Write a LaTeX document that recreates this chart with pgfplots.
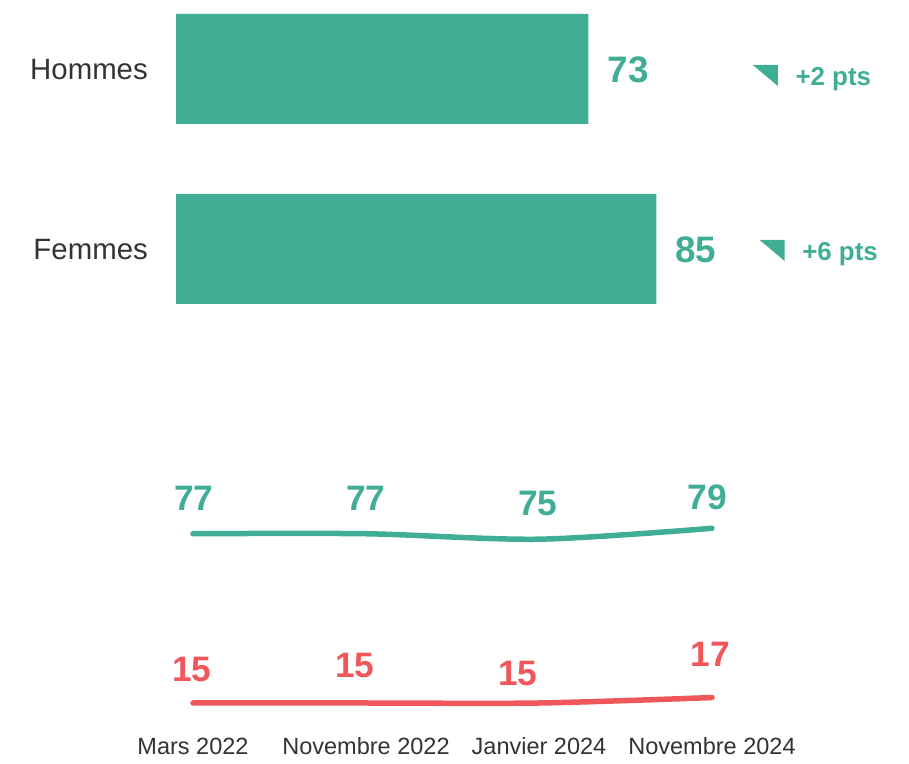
\documentclass[border=0pt]{standalone}
\usepackage{pgfplots}
\pgfplotsset{compat=1.18}
\usepackage{pgfplotstable}
\usepackage{fontspec}
\setmainfont{Liberation Sans}
\definecolor{vert}{RGB}{64,174,148}
\definecolor{rouge}{RGB}{240,87,91}
\definecolor{gris}{RGB}{51,51,51}
\pgfdeclareplotmark{dtri}{%
 \pgfpathmoveto{\pgfpoint{-12.5bp}{10.5bp}}%
 \pgfpathlineto{\pgfpoint{12.5bp}{10.5bp}}%
 \pgfpathlineto{\pgfpoint{12.5bp}{-10.5bp}}%
 \pgfpathclose\pgfusepathqfill}

\pgfplotstableread{
x y dx dy
0 77 1 20
1 77 0 20
2 75 -1 21
3 79 -5 16
}\greendata
\pgfplotstableread{
x y dx dy
0 15 -1 18
1 15 -11 22
2 15 -21 14
3 17 -2 28
}\reddata

\begin{document}
\begin{tikzpicture}
\path[use as bounding box] (0,0) rectangle (909bp,764bp);
\begin{axis}[
 at={(176bp,425bp)}, anchor=south west, scale only axis,
 x=5.65bp, y=180bp, xmin=0, xmax=130, ymin=-0.5, ymax=1.5,
 clip=false, axis line style={draw=none}, major tick length=0,
 /pgf/number format/assume math mode=true,
 xtick=\empty, ytick={0,1}, yticklabels={Femmes,Hommes},
 yticklabel style={font=\fontsize{29.5}{31}\selectfont, text=gris, inner sep=0, anchor=east, xshift=-28bp, yshift=-1bp},
 bar width=110bp,
 ]
\addplot[xbar, fill=vert, draw=none, nodes near coords,
  every node near coord/.style={anchor=west, inner sep=0, xshift=19bp, yshift=-1bp,
  font=\fontsize{37}{40}\selectfont\bfseries, text=vert}]
  coordinates {(73,1) (85,0)};
\addplot[only marks, mark=dtri, color=vert, fill=vert, draw=none, nodes near coords, point meta=explicit symbolic,
  every node near coord/.style={anchor=base west, inner sep=0, xshift=30bp, yshift=-10.5bp,
  font=\fontsize{26}{28}\selectfont\bfseries, text=vert}]
  coordinates {(104.3,0.964) [+2 pts] (105.5,-0.008) [+6 pts]};
\end{axis}

\begin{axis}[
 at={(193bp,61bp)}, anchor=south west, scale only axis,
 x=173bp, y=2.73bp, xmin=0, xmax=3, ymin=15, ymax=79,
 clip=false, axis line style={draw=none}, major tick length=0,
 /pgf/number format/assume math mode=true,
 ytick=\empty, xtick={0,1,2,3},
 xticklabels={Mars 2022, Novembre 2022, Janvier 2024, Novembre 2024},
 xticklabel style={font=\fontsize{23.6}{25}\selectfont, text=gris, anchor=base, inner sep=0, yshift=-51bp},
 ]
\addplot[vert, line width=5.5bp, line cap=round, smooth, no marks, nodes near coords,
  visualization depends on={\thisrow{dx}\as\ddx},
  visualization depends on={\thisrow{dy}\as\ddy},
  every node near coord/.style={anchor=south, inner sep=0, xshift=\ddx bp, yshift=\ddy bp,
  font=\fontsize{35.5}{38}\selectfont\bfseries, text=vert}]
  table[x=x,y=y] {\greendata};
\addplot[rouge, line width=5.5bp, line cap=round, smooth, no marks, nodes near coords,
  visualization depends on={\thisrow{dx}\as\ddx},
  visualization depends on={\thisrow{dy}\as\ddy},
  every node near coord/.style={anchor=south, inner sep=0, xshift=\ddx bp, yshift=\ddy bp,
  font=\fontsize{35.5}{38}\selectfont\bfseries, text=rouge}]
  table[x=x,y=y] {\reddata};
\end{axis}
\end{tikzpicture}
\end{document}
